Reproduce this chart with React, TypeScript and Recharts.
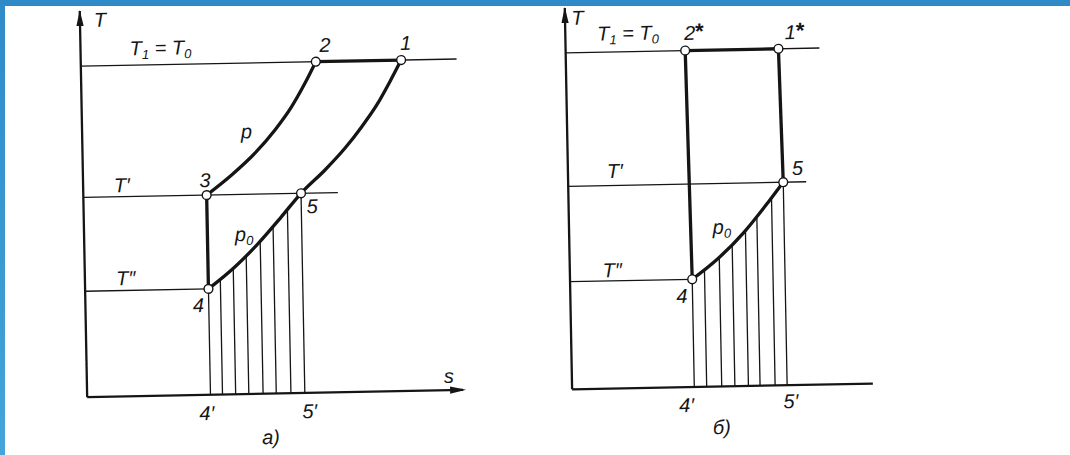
import React from 'react';
import {
  ComposedChart,
  Line,
  Scatter,
  XAxis,
  YAxis,
  ReferenceLine,
  ReferenceDot,
} from 'recharts';

const INK = '#151515';
const FONT = "'Liberation Sans', 'DejaVu Sans', Arial, sans-serif";

// Isotherm temperatures, K
const T_TOP = 300; // T1 = T0
const T_PRIME = 181; // T′
const T_DPRIME = 96; // T″

// ---------- Panel а) ----------
// isobar p, from state 3 up to state 2
const a_pS = [3.28, 3.955, 4.585, 5.13, 5.585, 5.95, 6.25];
const a_pT = [181, 198.8, 218.1, 238.8, 259.7, 280.6, 300];
// isobar p0, from state 4 through 5 up to state 1
const a_p0S = [3.28, 4.0, 4.63, 5.26, 5.79, 6.44, 6.98, 7.44, 7.85, 8.21, 8.52];
const a_p0T = [96, 115.6, 136.4, 160.2, 181, 201.7, 221.0, 240.3, 259.7, 280.6, 300];
// states 1..5
const a_stateNames = ['1', '2', '3', '4', '5'];
const a_stateS = [8.52, 6.25, 3.28, 3.28, 5.79];
const a_stateT = [300, 300, 181, 96, 181];
// hatching under 4–5 (heat q0)
const a_hatchS = [3.28, 3.6, 3.95, 4.3, 4.68, 5.03, 5.42, 5.79];
const a_hatchT = [96, 104.5, 114.3, 125.5, 138.3, 151.3, 166.5, 181];
// right ends of the T1, T′, T″ isotherms
const a_isoEndS = [10, 6.77, 3.28];
// axis extents
const a_sMax = 10;
const a_TMax = 350;

// ---------- Panel б) ----------
const b_p0S = [3.25, 3.91, 4.65, 5.3, 5.72];
const b_p0T = [96, 113, 137, 163, 181];
const b_stateNames = ['1*', '2*', '4', '5'];
const b_stateS = [5.66, 3.18, 3.25, 5.72];
const b_stateT = [300, 300, 96, 181];
const b_hatchS = [3.25, 3.58, 3.98, 4.33, 4.69, 5.0, 5.4, 5.72];
const b_hatchT = [96, 104.5, 115.5, 126.5, 138.5, 150.5, 166, 181];
const b_isoEndS = [6.75, 6.33, 3.25];
const b_sMax = 8;
const b_TMax = 340;

type Pt = { s: number; T: number };
const pts = (sArr: number[], tArr: number[]): Pt[] => sArr.map((s, i) => ({ s, T: tArr[i] }));
const stateAt = (sArr: number[], tArr: number[], i: number): Pt => ({ s: sArr[i], T: tArr[i] });

const THIN = 1.3;
const HEAVY = 3.3;
const AXIS = 2.3;

const Txt = ({ x, y, children, size = 20 }: any) => (
  <text
    x={x}
    y={y}
    textAnchor="middle"
    fontFamily={FONT}
    fontStyle="italic"
    fontSize={size}
    fill={INK}
  >
    {children}
  </text>
);

const sub = (base: string, idx: string) => (
  <>
    <tspan>{base}</tspan>
    <tspan fontSize={13} dy={4}>
      {idx}
    </tspan>
  </>
);

const T1T0 = (
  <>
    <tspan>T</tspan>
    <tspan fontSize={13} dy={4}>1</tspan>
    <tspan dy={-4}> = T</tspan>
    <tspan fontSize={13} dy={4}>0</tspan>
  </>
);

const star = (d: string) => (
  <>
    <tspan>{d}</tspan>
    <tspan fontStyle="normal" fontWeight="bold" fontSize={22} dy={-1}>*</tspan>
  </>
);

type Lbl = { key: string; s: number; T: number; dx: number; dy: number; node: React.ReactNode };

const labelDot = (l: Lbl) => (
  <ReferenceDot
    key={l.key}
    x={l.s}
    y={l.T}
    r={0}
    ifOverflow="visible"
    shape={(p: any) => (
      <Txt x={p.cx + l.dx} y={p.cy + l.dy}>
        {l.node}
      </Txt>
    )}
  />
);

const arrowUp = (p: any) => (
  <path
    d={`M${p.cx},${p.cy - 1} L${p.cx - 3.6},${p.cy + 15} L${p.cx + 3.6},${p.cy + 15} Z`}
    fill={INK}
  />
);
const arrowRight = (p: any) => (
  <path
    d={`M${p.cx + 3},${p.cy} L${p.cx - 13},${p.cy - 3.6} L${p.cx - 13},${p.cy + 3.6} Z`}
    fill={INK}
  />
);
const stateCircle = (p: any) => (
  <circle cx={p.cx} cy={p.cy} r={4.4} fill="#fff" stroke={INK} strokeWidth={1.4} />
);

const lineProps = {
  dataKey: 'T',
  dot: false,
  activeDot: false,
  isAnimationActive: false,
  stroke: INK,
  legendType: 'none' as const,
};

// the s and T axes drawn along the plot's bottom and left edges
const axisLines = (sMax: number, TMax: number, keyPrefix: string) => [
  <ReferenceLine
    key={`${keyPrefix}-ax-s`}
    segment={[
      { x: 0, y: 0 },
      { x: sMax, y: 0 },
    ]}
    stroke={INK}
    strokeWidth={AXIS}
  />,
  <ReferenceLine
    key={`${keyPrefix}-ax-T`}
    segment={[
      { x: 0, y: 0 },
      { x: 0, y: TMax },
    ]}
    stroke={INK}
    strokeWidth={AXIS}
  />,
];

const isoLines = (ends: number[], keyPrefix: string) =>
  [T_TOP, T_PRIME, T_DPRIME].map((T, i) => (
    <Line
      key={`${keyPrefix}-iso-${i}`}
      {...lineProps}
      type="linear"
      data={[
        { s: 0, T },
        { s: ends[i], T },
      ]}
      strokeWidth={THIN}
    />
  ));

const hatchLines = (sArr: number[], tArr: number[], keyPrefix: string) =>
  sArr.map((s, i) => (
    <ReferenceLine
      key={`${keyPrefix}-h-${i}`}
      segment={[
        { x: s, y: 0 },
        { x: s, y: tArr[i] },
      ]}
      stroke={INK}
      strokeWidth={THIN}
    />
  ));

function PanelA() {
  const s1 = stateAt(a_stateS, a_stateT, 0);
  const s2 = stateAt(a_stateS, a_stateT, 1);
  const s3 = stateAt(a_stateS, a_stateT, 2);
  const s4 = stateAt(a_stateS, a_stateT, 3);
  const s5 = stateAt(a_stateS, a_stateT, 4);
  const states = a_stateNames.map((n, i) => ({ name: n, ...stateAt(a_stateS, a_stateT, i) }));

  const labels: Lbl[] = [
    { key: 'T', s: 0, T: a_TMax, dx: 20, dy: 16, node: 'T' },
    { key: 'T1T0', s: 0, T: T_TOP, dx: 80, dy: -10, node: T1T0 },
    { key: 'n2', s: s2.s, T: s2.T, dx: 9.5, dy: -9.5, node: '2' },
    { key: 'n1', s: s1.s, T: s1.T, dx: 5, dy: -10, node: '1' },
    { key: 'p', s: a_pS[2], T: a_pT[2], dx: -8, dy: -15, node: 'p' },
    { key: 'Tp', s: 0, T: T_PRIME, dx: 38.7, dy: -4.7, node: 'T\u2032' },
    { key: 'n3', s: s3.s, T: s3.T, dx: -1.5, dy: -8, node: '3' },
    { key: 'n5', s: s5.s, T: s5.T, dx: 11, dy: 20, node: '5' },
    { key: 'p0', s: a_p0S[2], T: a_p0T[2], dx: -14, dy: -2.5, node: sub('p', '0') },
    { key: 'Tpp', s: 0, T: T_DPRIME, dx: 41, dy: -5.4, node: 'T\u2033' },
    { key: 'n4', s: s4.s, T: s4.T, dx: -10.4, dy: 23, node: '4' },
    { key: 's', s: a_sMax, T: 0, dx: -14, dy: -7.2, node: 's' },
    { key: 'n4p', s: a_hatchS[0], T: 0, dx: -4, dy: 25.2, node: '4\u2032' },
    { key: 'n5p', s: a_hatchS[a_hatchS.length - 1], T: 0, dx: 4.6, dy: 25.2, node: '5\u2032' },
    { key: 'cap', s: 5, T: 0, dx: -5, dy: 50.4, node: '\u0430)' },
  ];

  return (
    <ComposedChart width={480} height={455} margin={{ top: 2.34, right: 20, bottom: 66.5, left: 84 }}>
      <XAxis type="number" dataKey="s" domain={[0, a_sMax]} allowDataOverflow hide />
      <YAxis type="number" dataKey="T" domain={[0, a_TMax]} allowDataOverflow hide />
      {axisLines(a_sMax, a_TMax, 'a')}
      {isoLines(a_isoEndS, 'a')}
      {hatchLines(a_hatchS, a_hatchT, 'a')}
      <Line {...lineProps} type="monotone" data={pts(a_pS, a_pT)} strokeWidth={HEAVY} />
      <Line {...lineProps} type="monotone" data={pts(a_p0S, a_p0T)} strokeWidth={HEAVY} />
      <Line {...lineProps} type="linear" data={[s2, s1]} strokeWidth={HEAVY} />
      <Line {...lineProps} type="linear" data={[s4, s3]} strokeWidth={HEAVY} />
      <ReferenceDot x={0} y={a_TMax} r={0} ifOverflow="visible" shape={arrowUp} />
      <ReferenceDot x={a_sMax} y={0} r={0} ifOverflow="visible" shape={arrowRight} />
      <Scatter data={states} dataKey="T" shape={stateCircle} isAnimationActive={false} legendType="none" />
      {labels.map(labelDot)}
    </ComposedChart>
  );
}

function PanelB() {
  const s1 = stateAt(b_stateS, b_stateT, 0);
  const s2 = stateAt(b_stateS, b_stateT, 1);
  const s4 = stateAt(b_stateS, b_stateT, 2);
  const s5 = stateAt(b_stateS, b_stateT, 3);
  const states = b_stateNames.map((n, i) => ({ name: n, ...stateAt(b_stateS, b_stateT, i) }));

  const labels: Lbl[] = [
    { key: 'T', s: 0, T: b_TMax, dx: 12.4, dy: 17, node: 'T' },
    { key: 'T1T0', s: 0, T: T_TOP, dx: 62.6, dy: -11.7, node: T1T0 },
    { key: 'n2', s: s2.s, T: s2.T, dx: 9, dy: -10.5, node: star('2') },
    { key: 'n1', s: s1.s, T: s1.T, dx: 16.4, dy: -9.5, node: star('1') },
    { key: 'Tp', s: 0, T: T_PRIME, dx: 47, dy: -7.5, node: 'T\u2032' },
    { key: 'n5', s: s5.s, T: s5.T, dx: 14.4, dy: -7, node: '5' },
    { key: 'p0', s: b_p0S[2], T: b_p0T[2], dx: -22, dy: 1, node: sub('p', '0') },
    { key: 'Tpp', s: 0, T: T_DPRIME, dx: 42.5, dy: -3.8, node: 'T\u2033' },
    { key: 'n4', s: s4.s, T: s4.T, dx: -10.6, dy: 23.5, node: '4' },
    { key: 'n4p', s: b_hatchS[0], T: 0, dx: -8, dy: 24.9, node: '4\u2032' },
    { key: 'n5p', s: b_hatchS[b_hatchS.length - 1], T: 0, dx: 3.4, dy: 22.9, node: '5\u2032' },
    { key: 'cap', s: 4, T: 0, dx: -1.4, dy: 47.6, node: '\u0431)' },
  ];

  return (
    <ComposedChart width={590} height={455} margin={{ top: 8.6, right: 200.2, bottom: 65, left: 89 }}>
      <XAxis type="number" dataKey="s" domain={[0, b_sMax]} allowDataOverflow hide />
      <YAxis type="number" dataKey="T" domain={[0, b_TMax]} allowDataOverflow hide />
      {axisLines(b_sMax, b_TMax, 'b')}
      {isoLines(b_isoEndS, 'b')}
      {hatchLines(b_hatchS, b_hatchT, 'b')}
      <Line {...lineProps} type="monotone" data={pts(b_p0S, b_p0T)} strokeWidth={HEAVY} />
      <Line {...lineProps} type="linear" data={[s2, s1]} strokeWidth={HEAVY} />
      <Line {...lineProps} type="linear" data={[s4, s2]} strokeWidth={HEAVY} />
      <Line {...lineProps} type="linear" data={[s5, s1]} strokeWidth={HEAVY} />
      <ReferenceDot x={0} y={b_TMax} r={0} ifOverflow="visible" shape={arrowUp} />
      <Scatter data={states} dataKey="T" shape={stateCircle} isAnimationActive={false} legendType="none" />
      {labels.map(labelDot)}
    </ComposedChart>
  );
}

export default function App() {
  return (
    <div style={{ position: 'fixed', left: 0, top: 0, width: 1070, height: 455, background: '#fff', overflow: 'hidden' }}>
      <div
        style={{
          position: 'absolute',
          left: 0,
          top: 0,
          width: 1070,
          height: 455,
          transform: 'rotate(-1.1deg)',
          transformOrigin: '535px 227.5px',
        }}
      >
        <div style={{ position: 'absolute', left: 0, top: 0 }}>
          <PanelA />
        </div>
        <div style={{ position: 'absolute', left: 480, top: 0 }}>
          <PanelB />
        </div>
      </div>
      <div style={{ position: 'absolute', left: 0, top: 0, width: 1070, height: 6, background: '#2e8bc8' }} />
      <div
        style={{
          position: 'absolute',
          left: 0,
          top: 0,
          width: 5,
          height: 455,
          background: 'linear-gradient(#2e8bc8, #45a4da)',
        }}
      />
    </div>
  );
}
